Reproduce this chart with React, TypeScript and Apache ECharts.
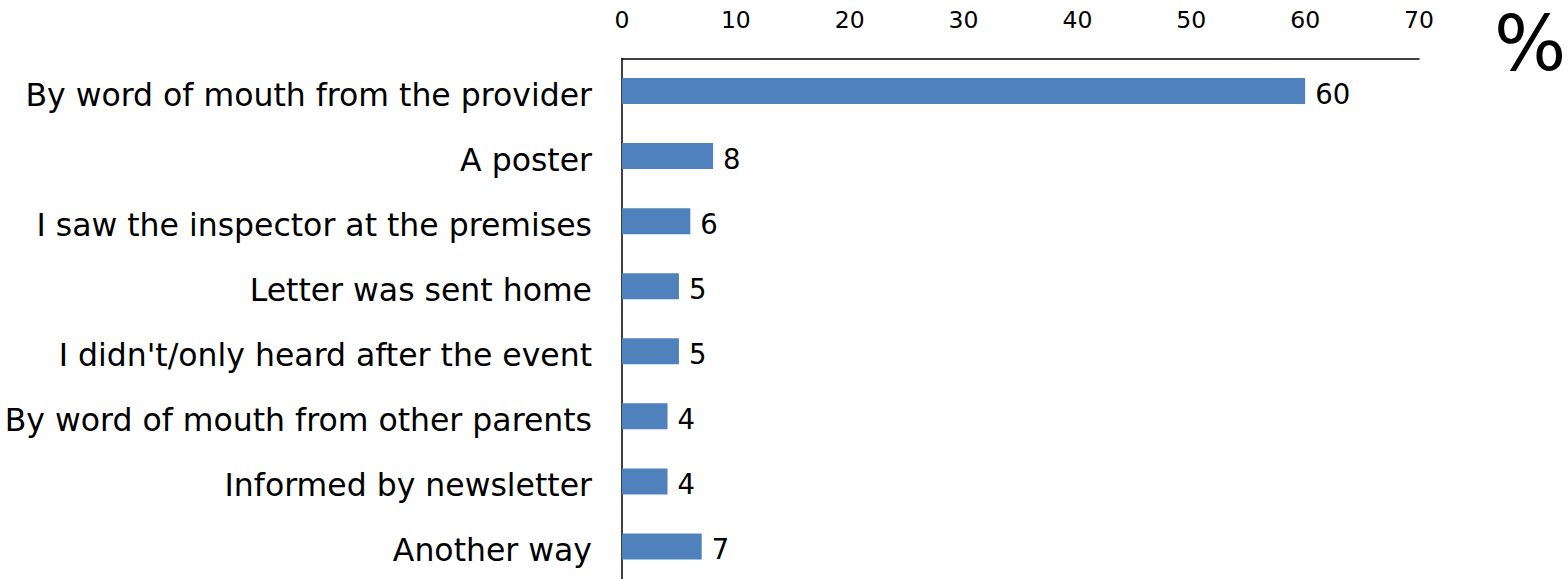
import React, { useEffect, useRef } from "react";
import * as echarts from "echarts";

const categories = [
  "By word of mouth from the provider",
  "A poster",
  "I saw the inspector at the premises",
  "Letter was sent home",
  "I didn't/only heard after the event",
  "By word of mouth from other parents",
  "Informed by newsletter",
  "Another way",
];
const values = [60, 8, 6, 5, 5, 4, 4, 7];
const axisMin = 0;
const axisMax = 70;
const axisStep = 10;

const FONT = "'DejaVu Sans', sans-serif";

export default function App() {
  const ref = useRef<HTMLDivElement>(null);
  useEffect(() => {
    if (!ref.current) return;
    const chart = echarts.init(ref.current, null, { renderer: "svg" });
    chart.setOption({
      animation: false,
      backgroundColor: "#ffffff",
      grid: {
        left: 622,
        top: 58.5,
        width: 797,
        height: 520.5,
        containLabel: false,
        outerBoundsMode: "none",
      },
      xAxis: {
        type: "value",
        position: "top",
        min: axisMin,
        max: axisMax,
        interval: axisStep,
        axisLine: { show: true, lineStyle: { color: "#000", width: 1.5 } },
        axisTick: { show: false },
        splitLine: { show: false },
        axisLabel: { color: "#000", fontSize: 23.5, fontFamily: FONT, margin: 27 },
      },
      yAxis: {
        type: "category",
        inverse: true,
        data: categories,
        axisLine: { show: true, lineStyle: { color: "#000", width: 1.5 } },
        axisTick: { show: false },
        axisLabel: {
          color: "#000",
          fontSize: 31.5,
          fontFamily: FONT,
          margin: 30,
          verticalAlign: "top",
          lineHeight: 8,
        },
      },
      series: [
        {
          type: "bar",
          data: values,
          barWidth: 26,
          itemStyle: { color: "#4F81BD" },
          label: {
            show: true,
            position: "right",
            distance: 10,
            color: "#000",
            fontSize: 27.5,
            fontFamily: FONT,
            verticalAlign: "top",
            lineHeight: 5,
          },
        },
      ],
      graphic: [
        {
          type: "text",
          left: 1494,
          top: 5,
          style: { text: "%", fontSize: 76, fontFamily: FONT, fill: "#000" },
        },
      ],
    });
    return () => chart.dispose();
  }, []);
  return (
    <div
      ref={ref}
      style={{ position: "absolute", left: 0, top: 0, width: 1568, height: 579 }}
    />
  );
}
